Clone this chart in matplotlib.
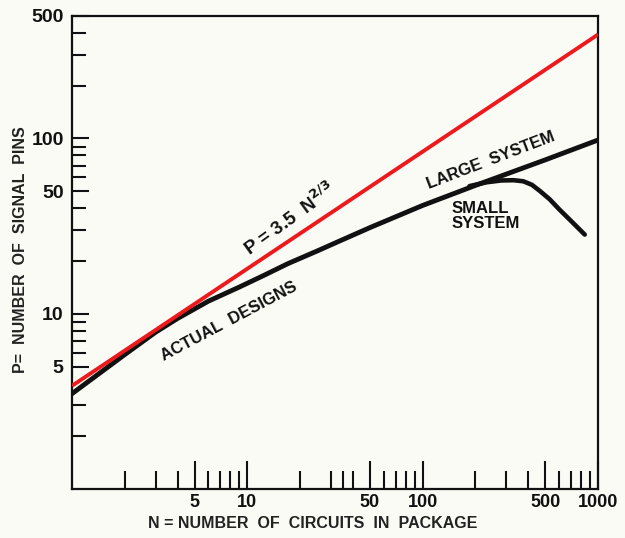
import matplotlib
matplotlib.use("Agg")
import matplotlib.pyplot as plt
from matplotlib.ticker import FixedLocator, NullFormatter, FixedFormatter

# ---- data ----
rent_n = [1, 1000]
rent_p = [3.88, 392]

large_n = [1, 2, 3, 4, 6, 9, 12.5, 17, 25, 33, 50, 100, 200, 500, 1000]
large_p = [3.5, 5.85, 7.85, 9.4, 11.8, 14.2, 16.6, 19.3, 22.8, 25.8, 31, 41.5, 54, 75.5, 98]

small_n = [185, 230, 280, 330, 375, 420, 466, 530, 600, 720, 840]
small_p = [53.5, 56.2, 57.6, 57.8, 57.0, 54.4, 50.2, 45.0, 39.5, 33.0, 28.3]

x_major = [5, 10, 50, 100, 500, 1000]
x_major_labels = ["5", "10", "50", "100", "500", "1000"]
x_minor = [2, 3, 4, 6, 7, 8, 9, 20, 30, 35, 40, 60, 70, 80, 90, 200, 300, 400, 600, 700, 800, 900]
y_major = [5, 10, 50, 100, 500]
y_major_labels = ["5", "10", "50", "100", "500"]
y_minor = [2, 3, 6, 7, 8, 9, 20, 30, 40, 60, 70, 80, 90, 200, 300, 400]

FONT = "Liberation Sans"
BG = "#fbfbf6"
INK = "#111111"

fig = plt.figure(figsize=(6.25, 5.38), dpi=100, facecolor=BG)
W, H = 625, 538
ax = fig.add_axes([72 / W, 1 - 489 / H, (598 - 72) / W, (489 - 16) / H])
ax.set_facecolor(BG)
ax.set_xscale("log")
ax.set_yscale("log")
ax.set_xlim(1, 1000)
ax.set_ylim(1, 500)

ax.plot(large_n, large_p, color=INK, lw=3.5, solid_capstyle="round",
        solid_joinstyle="round", zorder=3)
ax.plot(small_n, small_p, color=INK, lw=3.3, solid_capstyle="round",
        solid_joinstyle="round", zorder=3)
ax.plot(rent_n, rent_p, color="#ec1a1d", lw=2.8, zorder=4, solid_capstyle="butt")

for s in ax.spines.values():
    s.set_linewidth(1.6)
    s.set_color(INK)

ax.xaxis.set_major_locator(FixedLocator(x_major))
ax.xaxis.set_major_formatter(FixedFormatter(x_major_labels))
ax.xaxis.set_minor_locator(FixedLocator(x_minor))
ax.xaxis.set_minor_formatter(NullFormatter())
ax.yaxis.set_major_locator(FixedLocator(y_major))
ax.yaxis.set_major_formatter(FixedFormatter(y_major_labels))
ax.yaxis.set_minor_locator(FixedLocator(y_minor))
ax.yaxis.set_minor_formatter(NullFormatter())

ax.tick_params(axis="x", which="major", direction="in", length=20, width=1.5,
               pad=3.5, labelsize=13, color=INK)
ax.tick_params(axis="x", which="minor", direction="in", length=13, width=1.5,
               color=INK)
ax.tick_params(axis="y", which="major", direction="in", length=12, width=1.5,
               pad=6, labelsize=14, color=INK)
ax.tick_params(axis="y", which="minor", direction="in", length=10, width=1.5,
               color=INK)
for lab in ax.get_xticklabels() + ax.get_yticklabels():
    lab.set_fontfamily(FONT)
    lab.set_fontweight("bold")
    lab.set_color(INK)

def px(x, y):
    return x / W, 1 - y / H

fig.text(*px(313, 523), "N = NUMBER  OF  CIRCUITS  IN  PACKAGE", ha="center", va="center",
         fontsize=11.5, family=FONT, fontweight="bold", color="#222222")
fig.text(*px(21, 250), "P=  NUMBER  OF  SIGNAL  PINS", ha="center", va="center",
         rotation=90, fontsize=11.5, family=FONT, fontweight="bold", color="#222222")

fig.text(*px(290, 219), r"P = 3.5  N$^{\mathbf{2/3}}$", ha="center", va="center",
         rotation=36, fontsize=13.5, family=FONT, fontweight="bold", color=INK,
         rotation_mode="anchor")
fig.text(*px(229, 321), "ACTUAL  DESIGNS", ha="center", va="center",
         rotation=28, fontsize=12, family=FONT, fontweight="bold", color=INK,
         rotation_mode="anchor")
fig.text(*px(491, 160), "LARGE  SYSTEM", ha="center", va="center",
         rotation=21, fontsize=12, family=FONT, fontweight="bold", color=INK,
         rotation_mode="anchor")
fig.text(*px(452, 216), "SMALL\nSYSTEM", ha="left", va="center",
         fontsize=12, family=FONT, fontweight="bold", color=INK,
         linespacing=1.05)

fig.savefig("out.png", dpi=100, facecolor=BG)
